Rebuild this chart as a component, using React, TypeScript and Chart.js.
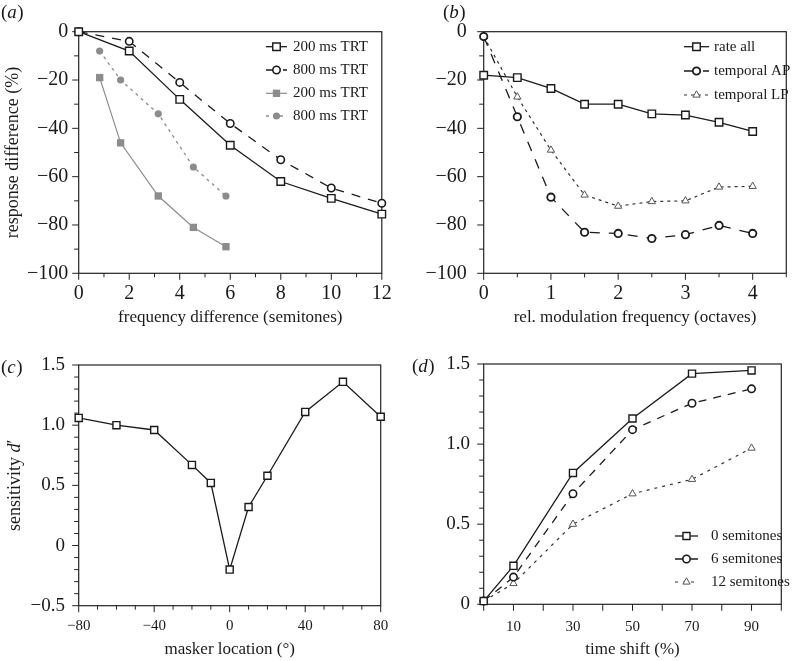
import React, { useEffect, useRef } from 'react';
import { Chart, registerables } from 'chart.js';
import { drawPoint } from 'chart.js/helpers';

Chart.register(...registerables);

const SERIF = "'Liberation Serif', 'Times New Roman', Times, serif";
const INK = '#1a1a1a';
const GREY = '#8c8c8c';

// ---------- Panel (a) ----------
const aXBlack = [0, 2, 4, 6, 8, 10, 12];
const a200Black = [0, -8, -28, -47, -62, -69, -75.5];
const a800Black = [0, -4, -21, -38, -53, -64.7, -71];
const aXGrey = [0.83, 1.66, 3.15, 4.54, 5.83];
const a200Grey = [-19, -46, -68, -81, -89];
const a800Grey = [-8, -20, -34, -56, -68];
const aLabels = ['200 ms TRT', '800 ms TRT', '200 ms TRT', '800 ms TRT'];

// ---------- Panel (b) ----------
const bX = [0, 0.5, 1, 1.5, 2, 2.5, 3, 3.5, 4];
const bRateAll = [-18, -19, -23.5, -30, -30, -34, -34.5, -37.5, -41.3];
const bTemporalAP = [-2, -35.2, -68.5, -83, -83.5, -85.6, -84, -80.2, -83.5];
const bTemporalLP = [-2, -27, -49, -67.6, -72.2, -70.3, -70, -64.3, -64];
const bLabels = ['rate all', 'temporal AP', 'temporal LP'];

// ---------- Panel (c) ----------
const cX = [-80, -60, -40, -20, -10, 0, 10, 20, 40, 60, 80];
const cSensitivity = [1.06, 1.0, 0.96, 0.67, 0.52, -0.2, 0.32, 0.58, 1.11, 1.36, 1.07];

// ---------- Panel (d) ----------
const dX = [0, 10, 30, 50, 70, 90];
const d0Semitones = [0.02, 0.24, 0.82, 1.16, 1.44, 1.46];
const d6Semitones = [0.02, 0.17, 0.69, 1.09, 1.255, 1.345];
const d12Semitones = [0.02, 0.13, 0.5, 0.69, 0.78, 0.975];
const dLabels = ['0 semitones', '6 semitones', '12 semitones'];

const pts = (xs: number[], ys: number[]) => xs.map((x, i) => ({ x, y: ys[i] }));
const minus = (s: string) => s.replace('-', '\u2212');
const near = (v: number, m: number) => Math.abs(v / m - Math.round(v / m)) < 1e-6;

const base = {
  tension: 0,
  fill: false,
  clip: false as any,
};

const squareHollow = {
  ...base,
  borderColor: INK,
  borderWidth: 1.3,
  pointStyle: 'rect',
  pointRadius: 5.3,
  pointBorderWidth: 1.4,
  pointBorderColor: INK,
  pointBackgroundColor: '#fff',
};
const circleHollow = {
  ...base,
  borderColor: INK,
  borderWidth: 1.3,
  pointStyle: 'circle',
  pointRadius: 3.7,
  pointBorderWidth: 1.6,
  pointBorderColor: INK,
  pointBackgroundColor: '#fff',
};
const triangleHollow = {
  ...base,
  borderColor: '#333',
  borderWidth: 1.2,
  pointStyle: 'triangle',
  pointRadius: 4.2,
  pointBorderWidth: 1,
  pointBorderColor: '#555',
  pointBackgroundColor: '#fff',
};

type Spec = any;

const specs: Spec[] = [
  {
    key: 'a',
    left: 0, top: 0, width: 400, height: 335,
    plot: { l: 78.7, t: 31.7, r: 388.7, b: 273.3 },
    letter: { ch: 'a', x: 1, y: 18 },
    datasets: [
      { ...squareHollow, label: aLabels[0], data: pts(aXBlack, a200Black) },
      { ...circleHollow, label: aLabels[1], borderDash: [9, 8], data: pts(aXBlack, a800Black) },
      {
        ...base, label: aLabels[2], data: pts(aXGrey, a200Grey),
        borderColor: GREY, borderWidth: 1.2, pointStyle: 'rect', pointRadius: 5.2,
        pointBorderWidth: 0, pointBorderColor: GREY, pointBackgroundColor: GREY,
      },
      {
        ...base, label: aLabels[3], data: pts(aXGrey, a800Grey), borderDash: [3, 4],
        borderColor: GREY, borderWidth: 1.3, pointStyle: 'circle', pointRadius: 3.6,
        pointBorderWidth: 0, pointBorderColor: GREY, pointBackgroundColor: GREY,
      },
    ],
    x: {
      min: 0, max: 12, step: 1, major: (v: number) => near(v, 2), fmt: (v: number) => String(v),
      size: 20, labelCenter: 293.5, title: 'frequency difference (semitones)', titleSize: 17, titleCenter: 318,
    },
    y: {
      min: -100, max: 0, step: 10, major: (v: number) => near(v, 20), fmt: (v: number) => minus(String(v)),
      size: 20, labelRight: 68.3, title: 'response difference (%)', titleSize: 18, titleCenter: 13,
    },
    legend: { x1: 266, x2: 287, tx: 293, rows: [46.7, 70, 93.3, 116], size: 15 },
  },
  {
    key: 'b',
    left: 400, top: 0, width: 395, height: 335,
    plot: { l: 483.7, t: 31.7, r: 794.3, b: 273.3 },
    letter: { ch: 'b', x: 443, y: 18 },
    datasets: [
      { ...squareHollow, label: bLabels[0], data: pts(bX, bRateAll) },
      { ...circleHollow, label: bLabels[1], borderDash: [10, 9], pointBorderWidth: 1.8, data: pts(bX, bTemporalAP) },
      { ...triangleHollow, label: bLabels[2], borderDash: [3, 4], data: pts(bX, bTemporalLP) },
    ],
    x: {
      min: 0, max: 4.5, step: 0.5, major: (v: number) => near(v, 1), fmt: (v: number) => String(v),
      size: 20, labelCenter: 294, title: 'rel. modulation frequency (octaves)', titleSize: 17, titleCenter: 318,
    },
    y: {
      min: -100, max: 0, step: 10, major: (v: number) => near(v, 20), fmt: (v: number) => minus(String(v)),
      size: 20, labelRight: 466.7,
    },
    legend: { x1: 684, x2: 709, tx: 714, rows: [46.7, 71, 95], size: 15 },
  },
  {
    key: 'c',
    left: 0, top: 330, width: 400, height: 331,
    plot: { l: 78.7, t: 365, r: 388.7, b: 605.7 },
    letter: { ch: 'c', x: 1, y: 373 },
    datasets: [
      { ...squareHollow, label: 'sensitivity', pointRadius: 5, data: pts(cX, cSensitivity) },
    ],
    x: {
      min: -80, max: 80, step: 10, major: (v: number) => near(v, 40), fmt: (v: number) => minus(String(v)),
      size: 15, labelCenter: 626.5, title: 'masker location (\u00b0)', titleSize: 17, titleCenter: 650,
    },
    y: {
      min: -0.5, max: 1.5, step: 0.1, major: (v: number) => near(v, 0.5),
      fmt: (v: number) => (Math.abs(v) < 1e-9 ? '0' : minus(v.toFixed(1))),
      size: 19, labelRight: 65,
    },
    customYTitle: { x: 15 },
  },
  {
    key: 'd',
    left: 400, top: 330, width: 395, height: 331,
    plot: { l: 483.7, t: 364, r: 794.3, b: 604.3 },
    letter: { ch: 'd', x: 412, y: 372 },
    datasets: [
      { ...squareHollow, label: dLabels[0], pointRadius: 5, data: pts(dX, d0Semitones) },
      { ...circleHollow, label: dLabels[1], borderDash: [8, 7], data: pts(dX, d6Semitones) },
      { ...triangleHollow, label: dLabels[2], borderDash: [3, 5], data: pts(dX, d12Semitones) },
    ],
    x: {
      min: 0, max: 100, step: 10, major: (v: number) => near(v, 20) === false, allMajor: true,
      fmt: (v: number) => String(v),
      size: 15, labelCenter: 627, title: 'time shift (%)', titleSize: 17, titleCenter: 650,
    },
    y: {
      min: 0, max: 1.5, step: 0.1, major: (v: number) => near(v, 0.5),
      fmt: (v: number) => (Math.abs(v) < 1e-9 ? '0' : v.toFixed(1)),
      size: 19, labelRight: 470,
    },
    legend: { x1: 675, x2: 698, tx: 711, rows: [536, 559, 582], size: 15 },
  },
];

function makeDeco(s: Spec) {
  return {
    id: 'deco_' + s.key,
    beforeDatasetsDraw(chart: any) {
      const ctx = chart.ctx;
      const area = chart.chartArea;
      ctx.save();
      ctx.strokeStyle = '#222';
      ctx.lineWidth = 1.2;
      ctx.strokeRect(area.left, area.top, area.right - area.left, area.bottom - area.top);
      ctx.lineWidth = 1;
      const xs = chart.scales.x;
      const ys = chart.scales.y;
      xs.ticks.forEach((t: any) => {
        const p = xs.getPixelForValue(t.value);
        const len = t.label !== '' || s.x.allMajor ? 6.5 : 4;
        ctx.beginPath();
        ctx.moveTo(p, area.bottom);
        ctx.lineTo(p, area.bottom + len);
        ctx.stroke();
      });
      ys.ticks.forEach((t: any) => {
        const p = ys.getPixelForValue(t.value);
        const len = t.label !== '' ? 6.5 : 4.5;
        ctx.beginPath();
        ctx.moveTo(area.left, p);
        ctx.lineTo(area.left - len, p);
        ctx.stroke();
      });
      ctx.restore();
    },
    afterDraw(chart: any) {
      const ctx = chart.ctx;
      const ox = s.left;
      const oy = s.top;
      ctx.save();
      // panel letter
      ctx.fillStyle = INK;
      ctx.textBaseline = 'alphabetic';
      ctx.textAlign = 'left';
      let lx = s.letter.x - ox;
      const ly = s.letter.y - oy;
      ctx.font = `19px ${SERIF}`;
      ctx.fillText('(', lx, ly);
      lx += ctx.measureText('(').width;
      ctx.font = `italic 19px ${SERIF}`;
      ctx.fillText(s.letter.ch, lx, ly);
      lx += ctx.measureText(s.letter.ch).width + 0.5;
      ctx.font = `19px ${SERIF}`;
      ctx.fillText(')', lx, ly);

      // custom y title (c)
      if (s.customYTitle) {
        const cy = (chart.chartArea.top + chart.chartArea.bottom) / 2;
        ctx.save();
        ctx.translate(s.customYTitle.x - ox, cy);
        ctx.rotate(-Math.PI / 2);
        ctx.textBaseline = 'middle';
        const parts = [
          { t: 'sensitivity ', f: `18px ${SERIF}` },
          { t: 'd', f: `italic 18px ${SERIF}` },
          { t: '\u2032', f: `18px ${SERIF}` },
        ];
        let total = 0;
        parts.forEach((p) => {
          ctx.font = p.f;
          total += ctx.measureText(p.t).width;
        });
        let px = -total / 2;
        parts.forEach((p) => {
          ctx.font = p.f;
          ctx.fillText(p.t, px, 0);
          px += ctx.measureText(p.t).width;
        });
        ctx.restore();
      }

      // legend
      const lg = s.legend;
      if (lg) {
        chart.data.datasets.forEach((ds: any, i: number) => {
          const y = lg.rows[i] - oy;
          ctx.save();
          ctx.strokeStyle = ds.borderColor;
          ctx.lineWidth = ds.borderWidth;
          ctx.setLineDash(ds.borderDash || []);
          ctx.beginPath();
          ctx.moveTo(lg.x1 - ox, y);
          ctx.lineTo(lg.x2 - ox, y);
          ctx.stroke();
          ctx.setLineDash([]);
          ctx.fillStyle = ds.pointBackgroundColor;
          ctx.strokeStyle = ds.pointBorderColor;
          ctx.lineWidth = ds.pointBorderWidth;
          drawPoint(
            ctx,
            { pointStyle: ds.pointStyle, rotation: 0, radius: ds.pointRadius, borderWidth: ds.pointBorderWidth } as any,
            (lg.x1 + lg.x2) / 2 - ox,
            y
          );
          ctx.fillStyle = INK;
          ctx.font = `${lg.size}px ${SERIF}`;
          ctx.textBaseline = 'middle';
          ctx.textAlign = 'left';
          ctx.fillText(ds.label, lg.tx - ox, y);
          ctx.restore();
        });
      }
      ctx.restore();
    },
  };
}

function buildConfig(s: Spec): any {
  const cb = (axis: any) => (value: any) => {
    const v = Math.round(Number(value) * 1000) / 1000;
    return axis.major(v) ? axis.fmt(v) : '';
  };
  const xLabelPad = s.x.labelCenter - s.plot.b - (s.x.size * 1.2) / 2;
  const yLabelPad = s.plot.l - s.y.labelRight;
  const xTitlePadBottom = s.top + s.height - s.x.titleCenter - (s.x.titleSize * 1.2) / 2;
  const yTitlePadTop = s.y.title ? s.y.titleCenter - s.left - (s.y.titleSize * 1.2) / 2 : 0;
  return {
    type: 'line',
    data: { datasets: s.datasets },
    options: {
      responsive: false,
      maintainAspectRatio: false,
      animation: false,
      devicePixelRatio: 1,
      events: [],
      layout: {
        padding: { left: 0, top: s.plot.t - s.top, right: s.left + s.width - s.plot.r, bottom: 0 },
      },
      plugins: {
        legend: { display: false },
        tooltip: { enabled: false },
        title: { display: false },
      },
      scales: {
        x: {
          type: 'linear',
          position: 'bottom',
          min: s.x.min,
          max: s.x.max,
          afterFit: (sc: any) => {
            sc.height = s.top + s.height - s.plot.b;
          },
          grid: { display: false, drawTicks: false, tickLength: 0 },
          border: { display: false },
          ticks: {
            stepSize: s.x.step,
            autoSkip: false,
            maxRotation: 0,
            minRotation: 0,
            padding: xLabelPad,
            color: INK,
            font: { family: SERIF, size: s.x.size },
            callback: cb(s.x),
          },
          title: {
            display: !!s.x.title,
            text: s.x.title,
            color: INK,
            font: { family: SERIF, size: s.x.titleSize },
            padding: { top: 0, bottom: xTitlePadBottom },
          },
        },
        y: {
          type: 'linear',
          position: 'left',
          min: s.y.min,
          max: s.y.max,
          afterFit: (sc: any) => {
            sc.width = s.plot.l - s.left;
          },
          grid: { display: false, drawTicks: false, tickLength: 0 },
          border: { display: false },
          ticks: {
            stepSize: s.y.step,
            autoSkip: false,
            padding: yLabelPad,
            color: INK,
            font: { family: SERIF, size: s.y.size },
            callback: cb(s.y),
          },
          title: {
            display: !!s.y.title,
            text: s.y.title,
            color: INK,
            font: { family: SERIF, size: s.y.titleSize || 18 },
            padding: { top: yTitlePadTop, bottom: 0 },
          },
        },
      },
    },
    plugins: [makeDeco(s)],
  };
}

function Panel({ spec }: { spec: Spec }) {
  const ref = useRef<HTMLCanvasElement>(null);
  useEffect(() => {
    if (!ref.current) return;
    const chart = new Chart(ref.current, buildConfig(spec));
    return () => chart.destroy();
  }, [spec]);
  return (
    <canvas
      ref={ref}
      width={spec.width}
      height={spec.height}
      style={{ position: 'absolute', left: spec.left, top: spec.top, width: spec.width, height: spec.height }}
    />
  );
}

export default function App() {
  return (
    <div style={{ position: 'absolute', left: 0, top: 0, width: 795, height: 661, background: '#fff', overflow: 'hidden' }}>
      {specs.map((s) => (
        <Panel key={s.key} spec={s} />
      ))}
    </div>
  );
}
